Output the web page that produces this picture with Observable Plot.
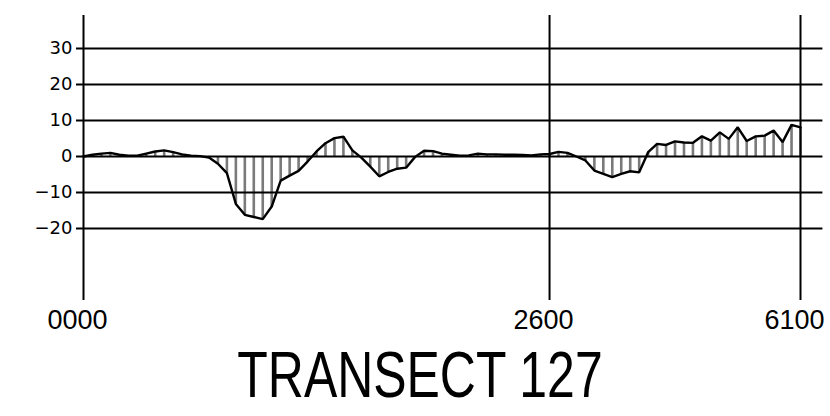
<!DOCTYPE html>
<html>
<head>
<meta charset="utf-8">
<script src="https://cdn.jsdelivr.net/npm/d3@7"></script>
<script src="https://cdn.jsdelivr.net/npm/@observablehq/plot@0.6"></script>
<style>
  html, body { margin: 0; padding: 0; background: #fff; }
  #wrap { width: 830px; position: relative; }
  #title {
    font-family: "Liberation Sans", Arial, sans-serif;
    font-size: 64px; line-height: 72px; color: #000;
    text-align: center; width: 830px;
    transform: translateX(5px) scaleX(0.78);
    transform-origin: 415px 0;
    margin-top: -1px;
  }
</style>
</head>
<body>
<div id="wrap"></div>
<script>
// Profile values, one per sample station (index 0..80)
const values = [
  0, 0.5, 0.8, 1.0, 0.5, 0.2, 0.2, 0.8, 1.4, 1.7,
  1.2, 0.6, 0.2, 0.1, -0.3, -2.0, -4.6, -13.2, -16.2, -16.8,
  -17.4, -13.9, -6.7, -5.3, -4.0, -1.4, 1.4, 3.7, 5.1, 5.5,
  1.7, -0.3, -2.8, -5.5, -4.3, -3.4, -3.1, -0.1, 1.6, 1.5,
  0.8, 0.5, 0.2, 0.3, 0.8, 0.6, 0.6, 0.5, 0.5, 0.4,
  0.3, 0.6, 0.7, 1.3, 1.0, 0.0, -1.1, -3.9, -4.8, -5.7,
  -4.8, -4.1, -4.4, 1.2, 3.5, 3.2, 4.2, 3.9, 3.8, 5.6,
  4.4, 6.7, 4.9, 8.1, 4.3, 5.6, 5.8, 7.2, 4.0, 8.8,
  8.1
];
const data = values.map((v, i) => ({i, v}));

// Station marks: index positions and their labels
const stationIdx = [0, 52, 80];
const stationLabels = ["0000", "2600", "6100"];

// Horizontal reference levels
const levels = [30, 20, 10, 0, -10, -20];

const fmt = d => d < 0 ? "\u2212" + Math.abs(d) : String(d);

const chart = Plot.plot({
  width: 830,
  height: 340,
  marginTop: 15,
  marginBottom: 40,
  marginLeft: 83,
  marginRight: 30,
  x: {type: "linear", domain: [0, 80], axis: null},
  y: {type: "linear", domain: [-40, 39.17], axis: null},
  style: {background: "#fff", fontSize: "16px", fontFamily: "DejaVu Sans", color: "#000"},
  marks: [
    // hatching from zero to the profile
    Plot.ruleX(data, {x: "i", y1: 0, y2: "v", stroke: "#7a7a7a", strokeWidth: 2.6}),
    // horizontal levels (with a short tick left of the axis)
    Plot.ruleY(levels, {x1: -0.78, x2: 82.5, stroke: "#000", strokeWidth: 1.8}),
    // station vertical lines
    Plot.ruleX(stationIdx, {stroke: "#000", strokeWidth: 2}),
    // y labels
    Plot.text(levels, {
      y: d => d, frameAnchor: "left", dx: -11, textAnchor: "end",
      text: fmt, fontSize: 18, fontFamily: "DejaVu Sans", fill: "#000"
    }),
    // station labels
    Plot.text(stationIdx, {
      x: d => d, frameAnchor: "bottom", dy: 9, dx: -6,
      text: (d, k) => stationLabels[k],
      fontSize: 27, fontFamily: "Liberation Sans",
      lineAnchor: "top", fill: "#000"
    }),
    // profile line
    Plot.line(data, {x: "i", y: "v", stroke: "#000", strokeWidth: 2.4, strokeLinejoin: "miter"})
  ]
});
chart.style.display = "block";
document.getElementById("wrap").append(chart);
const t = document.createElement("div");
t.id = "title";
t.textContent = "TRANSECT 127";
document.getElementById("wrap").append(t);
</script>
</body>
</html>
